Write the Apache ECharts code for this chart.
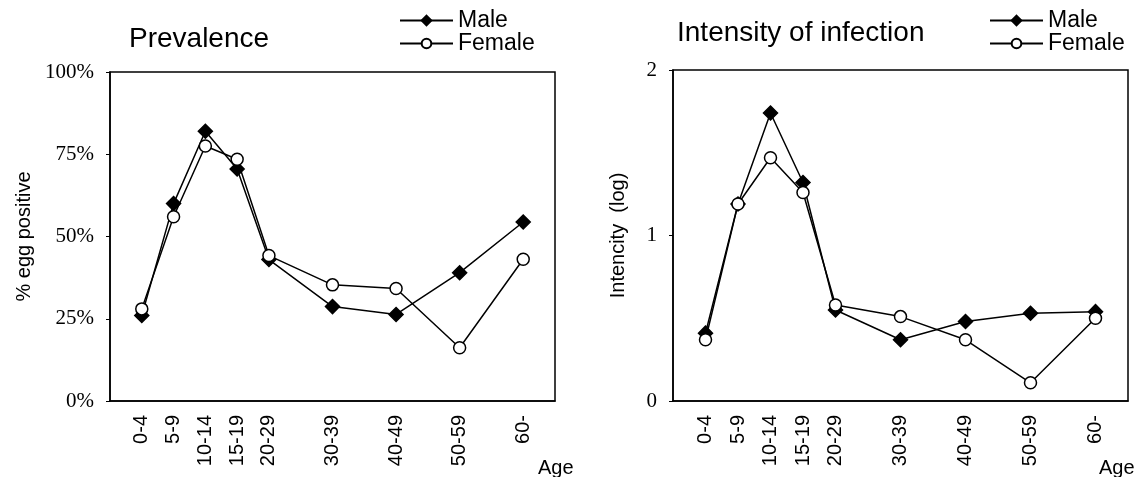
<!DOCTYPE html>
<html>
<head>
    <meta charset="utf-8">
    <title>Prevalence / Intensity</title>
    <script src="https://cdn.jsdelivr.net/npm/echarts@6/dist/echarts.min.js"></script>
    <style>
        html, body { margin: 0; padding: 0; background: #fff; }
    </style>
</head>
<body>
    <div id="main" style="width: 1138px;height:477px;"></div>
    <script type="text/javascript">
        // age groups and their slot on the (uneven) age axis
        var ageGroups = ['0-4', '5-9', '10-14', '15-19', '20-29', '30-39', '40-49', '50-59', '60-'];
        var ageSlots = [1, 2, 3, 4, 5, 7, 9, 11, 13];

        // % egg positive
        var prevMale = [26, 60, 82, 70.5, 43, 28.7, 26.3, 39, 54.4];
        var prevFemale = [28, 56, 77.5, 73.5, 44.2, 35.3, 34.2, 16.2, 43.1];

        // intensity (log)
        var intMale = [0.41, 1.19, 1.74, 1.32, 0.55, 0.37, 0.48, 0.53, 0.54];
        var intFemale = [0.37, 1.19, 1.47, 1.26, 0.58, 0.51, 0.37, 0.11, 0.50];

        function pairs(vals) {
            return vals.map(function (v, i) { return [ageSlots[i], v]; });
        }

        function slotLabel(v) {
            var i = ageSlots.indexOf(v);
            return i < 0 ? '' : ageGroups[i];
        }

        var black = '#000';
        var sans = '"Liberation Sans", Arial, sans-serif';
        var serif = '"Liberation Serif", "Times New Roman", serif';

        function xAxisFor(idx) {
            return {
                type: 'value', gridIndex: idx, min: 0, max: 14, interval: 1,
                axisLine: { lineStyle: { color: black, width: 1.5 } },
                axisTick: { show: false },
                splitLine: { show: false },
                axisLabel: {
                    rotate: 90, margin: 14, color: black, fontSize: 20, fontFamily: sans,
                    formatter: slotLabel, showMinLabel: true, showMaxLabel: true
                }
            };
        }

        function yAxisFor(idx, max, interval, name, gap, fmt) {
            return {
                type: 'value', gridIndex: idx, min: 0, max: max, interval: interval,
                name: name, nameLocation: 'middle', nameRotate: 90, nameGap: gap,
                nameTextStyle: { color: black, fontSize: 20, fontFamily: sans },
                axisLine: { show: true, lineStyle: { color: black, width: 1.5 } },
                axisTick: { show: true, inside: false, length: 4, lineStyle: { color: black } },
                splitLine: { show: false },
                axisLabel: { color: black, fontSize: 21, fontFamily: serif, margin: 16, formatter: fmt }
            };
        }

        function lineSeries(name, idx, vals, filled) {
            return {
                name: name, type: 'line', xAxisIndex: idx, yAxisIndex: idx,
                data: pairs(vals),
                symbol: filled ? 'diamond' : 'circle',
                symbolSize: filled ? 14 : 12,
                itemStyle: { color: filled ? black : '#fff', borderColor: black, borderWidth: 1.5 },
                lineStyle: { color: black, width: 1.5 },
                emphasis: { disabled: true },
                z: filled ? 2 : 3
            };
        }

        function legendAt(left) {
            return {
                data: ['Male', 'Female'], orient: 'vertical', left: left, top: 9, itemGap: 0, padding: 0,
                itemWidth: 53, itemHeight: 12, textStyle: { fontSize: 23, color: black, fontFamily: sans },
                selectedMode: false
            };
        }

        var myChart = echarts.init(document.getElementById('main'));
        var option = {
            animation: false,
            backgroundColor: '#fff',
            title: [
                { text: 'Prevalence', left: 124, top: 20, textStyle: { fontSize: 28, fontWeight: 'normal', color: black, fontFamily: sans } },
                { text: 'Intensity of infection', left: 672, top: 14, textStyle: { fontSize: 28, fontWeight: 'normal', color: black, fontFamily: sans } }
            ],
            legend: [legendAt(399), legendAt(989)],
            grid: [
                { left: 110, top: 72, width: 445, height: 329, show: true, borderColor: black, borderWidth: 1.5, backgroundColor: 'transparent' },
                { left: 673, top: 70, width: 455, height: 331, show: true, borderColor: black, borderWidth: 1.5, backgroundColor: 'transparent' }
            ],
            xAxis: [xAxisFor(0), xAxisFor(1)],
            yAxis: [
                yAxisFor(0, 100, 25, '% egg positive', 76, '{value}%'),
                yAxisFor(1, 2, 1, 'Intencity  (log)', 45, '{value}')
            ],
            graphic: [
                { type: 'text', left: 538, top: 458, style: { text: 'Age', fontSize: 20, fill: black, fontFamily: sans } },
                { type: 'text', left: 1099, top: 458, style: { text: 'Age', fontSize: 20, fill: black, fontFamily: sans } }
            ],
            series: [
                lineSeries('Male', 0, prevMale, true),
                lineSeries('Female', 0, prevFemale, false),
                lineSeries('Male', 1, intMale, true),
                lineSeries('Female', 1, intFemale, false)
            ]
        };
        myChart.setOption(option);
    </script>
</body>
</html>
